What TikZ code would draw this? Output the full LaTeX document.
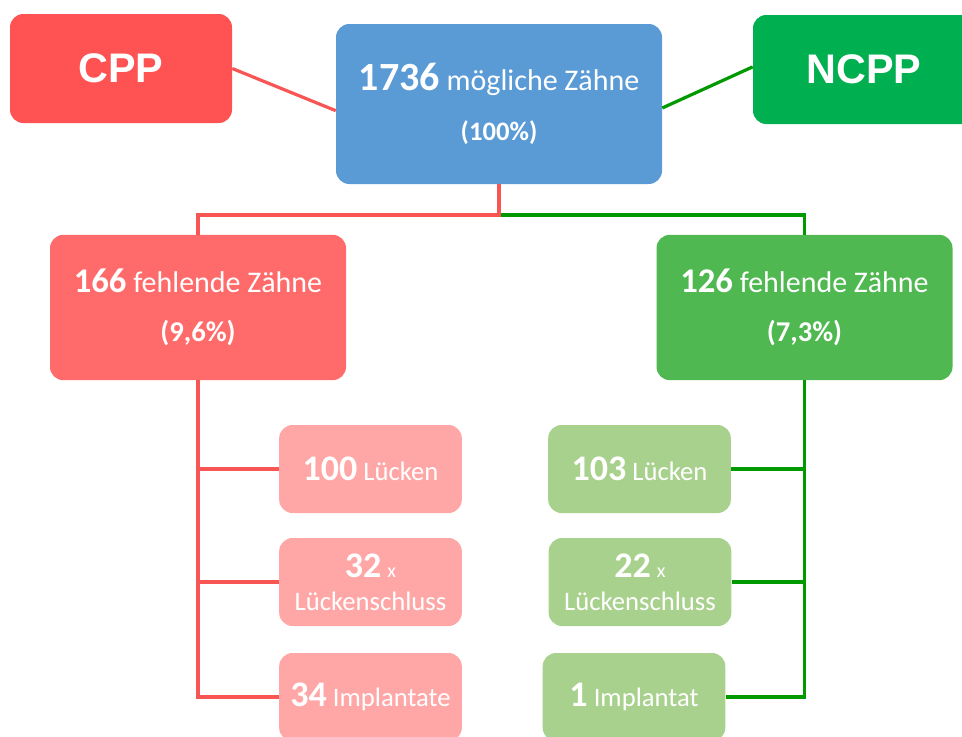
\documentclass[tikz,border=0pt]{standalone}
\usepackage{fontspec}
\usepackage{xcolor}
\setmainfont{Carlito}
\newfontfamily\arialfont{Liberation Sans}
\definecolor{cppred}{HTML}{FF5252}
\definecolor{ncppgreen}{HTML}{00B050}
\definecolor{mainblue}{HTML}{5B9BD5}
\definecolor{midred}{HTML}{FF6B6B}
\definecolor{midgreen}{HTML}{50B850}
\definecolor{lightred}{HTML}{FFA7A7}
\definecolor{lightgreen}{HTML}{A9D18E}
\definecolor{redline}{HTML}{F85555}
\definecolor{greenline}{HTML}{009A00}

\begin{document}
\begin{tikzpicture}[x=0.75pt, y=-0.75pt,
    box/.style={rounded corners=10pt, inner sep=0pt, align=center, text=white},
    big/.style={box, minimum width=166.5pt, minimum height=81.75pt, font=\arialfont\bfseries\fontsize{31}{36}\selectfont},
    mid/.style={box, minimum width=222pt, minimum height=109pt, font=\fontsize{22.5}{37}\selectfont},
    small/.style={box, minimum width=137pt, minimum height=66pt, font=\fontsize{20}{25}\selectfont},
    redl/.style={draw=redline, line width=2.4pt},
    greenl/.style={draw=greenline, line width=2.4pt}]
    \clip (0,0) rectangle (962,736);

    \node[big, fill=cppred] (cpp) at (121,68.5) {CPP};
    \node[big, fill=ncppgreen] (ncpp) at (864,69.5) {NCPP};
    \node[box, fill=mainblue, minimum width=244.5pt, minimum height=120pt,
          font=\fontsize{22.5}{37.5}\selectfont] (main) at (499,104)
        {{\fontsize{30}{37.5}\selectfont\bfseries 1736} mögliche Zähne\\
         {\fontsize{20}{37.5}\selectfont\bfseries (100\%)}};

    \node[mid, fill=midred] (left) at (198,307.5)
        {{\fontsize{26}{37}\selectfont\bfseries 166} fehlende Zähne\\
         {\fontsize{21.5}{37}\selectfont\bfseries (9,6\%)}};
    \node[mid, fill=midgreen] (right) at (804.5,307.5)
        {{\fontsize{26}{37}\selectfont\bfseries 126} fehlende Zähne\\
         {\fontsize{21.5}{37}\selectfont\bfseries (7,3\%)}};

    \node[small, fill=lightred] (l1) at (370.5,469) {{\fontsize{27}{25}\selectfont\bfseries 100} Lücken};
    \node[small, fill=lightred] (l2) at (370.5,582)
        {{\fontsize{27}{25}\selectfont\bfseries 32} {\fontsize{15}{25}\selectfont x}\\Lückenschluss};
    \node[small, fill=lightred] (l3) at (370.5,697) {{\fontsize{27}{25}\selectfont\bfseries 34} Implantate};

    \node[small, fill=lightgreen] (r1) at (639.5,469) {{\fontsize{27}{25}\selectfont\bfseries 103} Lücken};
    \node[small, fill=lightgreen] (r2) at (640,582)
        {{\fontsize{27}{25}\selectfont\bfseries 22} {\fontsize{15}{25}\selectfont x}\\Lückenschluss};
    \node[small, fill=lightgreen] (r3) at (634,697) {{\fontsize{27}{25}\selectfont\bfseries 1} Implantat};

    \coordinate (split) at (499,215);

    \draw[redl] (cpp.east) -- ([yshift=-5pt]main.west);
    \draw[greenl] ([yshift=-3pt]main.east) -- ([yshift=2pt]ncpp.west);

    \draw[greenl] (split) -| (right.north);
    \draw[redl] (main.south) -- (split) -| (left.north);

    \draw[redl] (left.south) |- (l1.west);
    \draw[redl] (left.south) |- (l2.west);
    \draw[redl] (left.south) |- (l3.west);
    \draw[greenl] (right.south) |- (r1.east);
    \draw[greenl] (right.south) |- (r2.east);
    \draw[greenl] (right.south) |- (r3.east);
\end{tikzpicture}
\end{document}
